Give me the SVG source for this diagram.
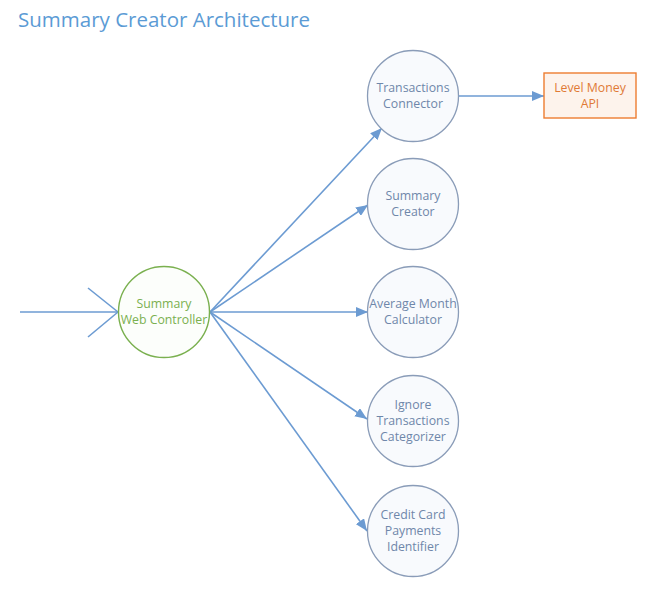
<svg xmlns="http://www.w3.org/2000/svg" width="659" height="600" viewBox="0 0 659 600">
<style>
.t{font-family:"Open Sans","Noto Sans",sans-serif;font-size:12.3px;text-anchor:middle}
.n{fill:#f8fafd;stroke:#8a9cb8;stroke-width:1.3}
.nt{fill:#6f87aa}
.c{stroke:#6c9bd2;stroke-width:1.6;fill:none}
</style>
<defs>
<marker id="b" viewBox="0 0 10 10" refX="10" refY="5" markerWidth="12" markerHeight="10" orient="auto" markerUnits="userSpaceOnUse" preserveAspectRatio="none">
<path d="M0,0L10,5L0,10z" fill="#6c9bd2"/>
</marker>
</defs>
<rect width="659" height="600" fill="#ffffff"/>
<text x="18" y="27" font-family="Open Sans, Noto Sans, sans-serif" font-size="20.5" fill="#5b9bd5">Summary Creator Architecture</text>
<g id="connectors">
<line class="c" x1="20" y1="312" x2="118" y2="312"/>
<line class="c" x1="88" y1="288" x2="118" y2="312"/>
<line class="c" x1="88" y1="337" x2="118" y2="312"/>
<line class="c" x1="210" y1="312" x2="382" y2="128" marker-end="url(#b)"/>
<line class="c" x1="210" y1="312" x2="368" y2="205" marker-end="url(#b)"/>
<line class="c" x1="210" y1="312" x2="368" y2="312" marker-end="url(#b)"/>
<line class="c" x1="210" y1="312" x2="367" y2="419" marker-end="url(#b)"/>
<line class="c" x1="210" y1="312" x2="367" y2="531" marker-end="url(#b)"/>
<line class="c" x1="458" y1="96" x2="544" y2="96" marker-end="url(#b)"/>
</g>
<g id="controller">
<circle cx="164" cy="312" r="45.5" fill="#fcfefb" stroke="#7ab04f" stroke-width="1.4"/>
<text class="t" fill="#7ab04f" x="164" y="308">Summary</text>
<text class="t" fill="#7ab04f" x="164" y="324">Web Controller</text>
</g>
<g id="transactions-connector">
<circle class="n" cx="413" cy="96" r="45.5"/>
<text class="t nt" x="413" y="92">Transactions</text>
<text class="t nt" x="413" y="108">Connector</text>
</g>
<g id="summary-creator">
<circle class="n" cx="413" cy="204" r="45.5"/>
<text class="t nt" x="413" y="200">Summary</text>
<text class="t nt" x="413" y="216">Creator</text>
</g>
<g id="average-month">
<circle class="n" cx="413" cy="312" r="45.5"/>
<text class="t nt" x="413" y="308">Average Month</text>
<text class="t nt" x="413" y="324">Calculator</text>
</g>
<g id="ignore-transactions">
<circle class="n" cx="413" cy="421" r="45.5"/>
<text class="t nt" x="413" y="409">Ignore</text>
<text class="t nt" x="413" y="425">Transactions</text>
<text class="t nt" x="413" y="441">Categorizer</text>
</g>
<g id="credit-card">
<circle class="n" cx="413" cy="531" r="45.5"/>
<text class="t nt" x="413" y="519">Credit Card</text>
<text class="t nt" x="413" y="535">Payments</text>
<text class="t nt" x="413" y="551">Identifier</text>
</g>
<g id="level-money">
<rect x="544" y="73" width="92" height="45" fill="#fdf3ec" stroke="#ed7d31" stroke-width="1.4"/>
<text class="t" fill="#e07a35" x="590" y="92">Level Money</text>
<text class="t" fill="#e07a35" x="590" y="108">API</text>
</g>
</svg>
